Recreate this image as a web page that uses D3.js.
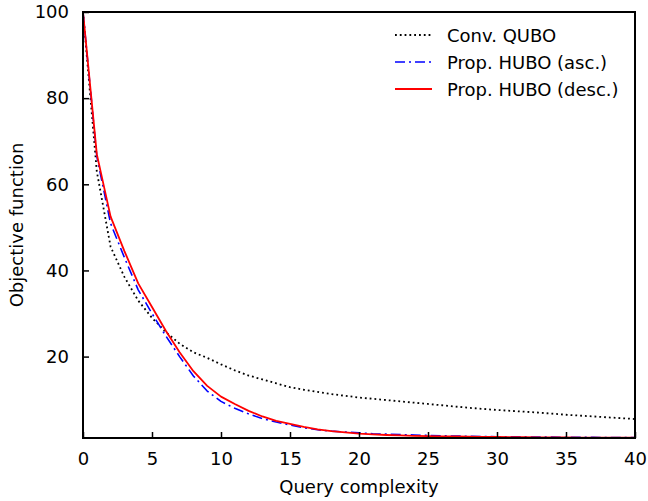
<!DOCTYPE html>
<html>
<head>
<meta charset="utf-8">
<script src="https://cdn.jsdelivr.net/npm/d3@7"></script>
<style>
  html, body { margin: 0; padding: 0; background: #fff; }
  svg { display: block; }
  text { font-family: "DejaVu Sans", sans-serif; fill: #000; }
</style>
</head>
<body>
<svg id="chart" width="648" height="501"></svg>
<script>
// Query complexity 0..40
const complexity = d3.range(0, 41);

// Conventional QUBO formulation
const convQubo = [100, 63, 45.5, 38.5, 33, 29, 25.7, 23, 21, 19.7, 18.2, 16.8, 15.6, 14.7, 13.8, 12.9,
  12.3, 11.8, 11.3, 10.9, 10.5, 10.2, 9.9, 9.6, 9.3, 9.0, 8.7, 8.4, 8.1, 7.85, 7.6,
  7.4, 7.2, 7.0, 6.75, 6.5, 6.3, 6.1, 5.9, 5.7, 5.5];

// Proposed HUBO, ascending order
const huboAsc = [100, 66.5, 50.9, 43, 35.5, 30, 24.8, 20, 15.5, 12, 9.6, 8, 6.7, 5.6, 4.8, 4.1,
  3.5, 3.0, 2.7, 2.5, 2.3, 2.1, 2.0, 1.9, 1.8, 1.7, 1.6, 1.55, 1.5, 1.45, 1.4,
  1.38, 1.35, 1.32, 1.3, 1.28, 1.26, 1.24, 1.22, 1.21, 1.2];

// Proposed HUBO, descending order
const huboDesc = [100, 67, 52.5, 44.5, 37, 31.5, 26, 21, 16.6, 13.2, 10.7, 9.0, 7.4, 6.1, 5.1, 4.4,
  3.7, 3.1, 2.7, 2.4, 2.1, 1.95, 1.8, 1.7, 1.6, 1.55, 1.5, 1.45, 1.4, 1.36, 1.33,
  1.3, 1.28, 1.26, 1.24, 1.22, 1.21, 1.2, 1.19, 1.18, 1.17];

const xTicks = [0, 5, 10, 15, 20, 25, 30, 35, 40];
const yTicks = [20, 40, 60, 80, 100];

const seriesNames = ["Conv. QUBO", "Prop. HUBO (asc.)", "Prop. HUBO (desc.)"];
const seriesValues = [convQubo, huboAsc, huboDesc];
const seriesStyles = [
  { color: "#000", width: 1.8, dash: "1.8,3" },
  { color: "#0000ff", width: 1.6, dash: "10,4,2,4" },
  { color: "#ff0000", width: 1.8, dash: null }
];

const svg = d3.select("#chart");
const plotL = 83, plotR = 635, plotT = 12, plotB = 438;

const x = d3.scaleLinear().domain([0, 40]).range([plotL, plotR]);
const y = d3.scaleLinear().domain([1.1, 100]).range([plotB, plotT]);

// Curves
const line = d3.line().x((d, i) => x(complexity[i])).y(d => y(d));
seriesValues.forEach((vals, k) => {
  const s = seriesStyles[k];
  svg.append("path")
    .datum(vals)
    .attr("fill", "none")
    .attr("stroke", s.color)
    .attr("stroke-width", s.width)
    .attr("stroke-dasharray", s.dash)
    .attr("stroke-linejoin", "round")
    .attr("d", line);
});

// Axes with inward ticks
const fs = 18;
const xAxis = svg.append("g").attr("transform", `translate(0,${plotB})`)
  .call(d3.axisBottom(x).tickValues(xTicks).tickSize(-6).tickPadding(11).tickFormat(d3.format("d")));
const yAxis = svg.append("g").attr("transform", `translate(${plotL},0)`)
  .call(d3.axisLeft(y).tickValues(yTicks).tickSize(-6).tickPadding(14).tickFormat(d3.format("d")));
[xAxis, yAxis].forEach(g => {
  g.select(".domain").remove();
  g.selectAll(".tick line").attr("stroke", "#000").attr("stroke-width", 1.5);
  g.selectAll(".tick text").attr("font-size", fs).attr("font-family", "DejaVu Sans");
});
xAxis.selectAll(".tick text").attr("dy", "0.9em");

// Frame
svg.append("rect")
  .attr("x", plotL).attr("y", plotT)
  .attr("width", plotR - plotL).attr("height", plotB - plotT)
  .attr("fill", "none").attr("stroke", "#000").attr("stroke-width", 2);

// Axis titles
svg.append("text")
  .attr("x", (plotL + plotR) / 2).attr("y", 493)
  .attr("text-anchor", "middle").attr("font-size", fs)
  .text("Query complexity");
svg.append("text")
  .attr("transform", `translate(23,${(plotT + plotB) / 2}) rotate(-90)`)
  .attr("text-anchor", "middle").attr("font-size", fs)
  .text("Objective function");

// Legend
const legend = svg.append("g");
seriesNames.forEach((name, k) => {
  const s = seriesStyles[k];
  const base = 42 + k * 27;
  legend.append("line")
    .attr("x1", 395).attr("x2", 432)
    .attr("y1", base - 7).attr("y2", base - 7)
    .attr("stroke", s.color).attr("stroke-width", s.width)
    .attr("stroke-dasharray", s.dash);
  legend.append("text")
    .attr("x", 447).attr("y", base)
    .attr("font-size", fs)
    .text(name);
});
</script>
</body>
</html>
